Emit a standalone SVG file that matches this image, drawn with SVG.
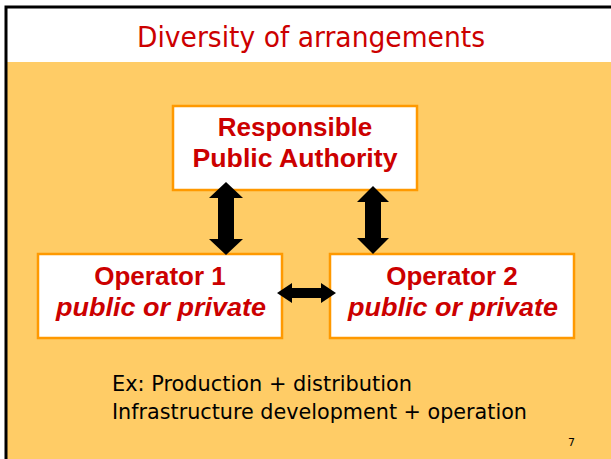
<svg xmlns="http://www.w3.org/2000/svg" width="611" height="459" viewBox="0 0 611 459">
<style>
.box{fill:#fff;stroke:#FF9900;stroke-width:2.5}
.bt{font-family:"Liberation Sans",Arial,sans-serif;font-weight:bold;font-size:26px;fill:#CC0000;text-anchor:middle}
.it{font-style:italic}
.tah{font-family:"DejaVu Sans",Verdana,sans-serif}
.arr{fill:#000}
</style>
<rect x="0" y="0" width="611" height="459" fill="#fff"/>
<rect x="7" y="62" width="604" height="397" fill="#FFCC66"/>
<path d="M6 459 V7 H611" fill="none" stroke="#000" stroke-width="3"/>
<text class="tah" x="311" y="47" font-size="28" fill="#CC0000" text-anchor="middle" textLength="348" lengthAdjust="spacingAndGlyphs">Diversity of arrangements</text>
<g id="authority">
<rect class="box" x="173" y="106" width="244" height="84"/>
<text class="bt" x="295" y="136">Responsible</text>
<text class="bt" x="295" y="167" textLength="205" lengthAdjust="spacingAndGlyphs">Public Authority</text>
</g>
<g id="operator1">
<rect class="box" x="38" y="254" width="244" height="84"/>
<text class="bt" x="160" y="285">Operator 1</text>
<text class="bt it" x="161" y="316" textLength="210" lengthAdjust="spacingAndGlyphs">public or private</text>
</g>
<g id="operator2">
<rect class="box" x="330" y="254" width="244" height="84"/>
<text class="bt" x="452" y="285">Operator 2</text>
<text class="bt it" x="453" y="316" textLength="210" lengthAdjust="spacingAndGlyphs">public or private</text>
</g>
<g id="connectors">
<polygon class="arr" points="226,182 243,198 234,198 234,239 243,239 226,255 209,239 218,239 218,198 209,198"/>
<polygon class="arr" points="373,186 389,202 381,202 381,238 389,238 373,254 357,238 365,238 365,202 357,202"/>
<polygon class="arr" points="277,293 292,283 292,288 321,288 321,283 336,293 321,303 321,298 292,298 292,303"/>
</g>
<text class="tah" x="112" y="391" font-size="22" fill="#000" textLength="300" lengthAdjust="spacingAndGlyphs">Ex: Production + distribution</text>
<text class="tah" x="112" y="419" font-size="22" fill="#000" textLength="415" lengthAdjust="spacingAndGlyphs">Infrastructure development + operation</text>
<text class="tah" x="568" y="446" font-size="11" fill="#000">7</text>
</svg>
